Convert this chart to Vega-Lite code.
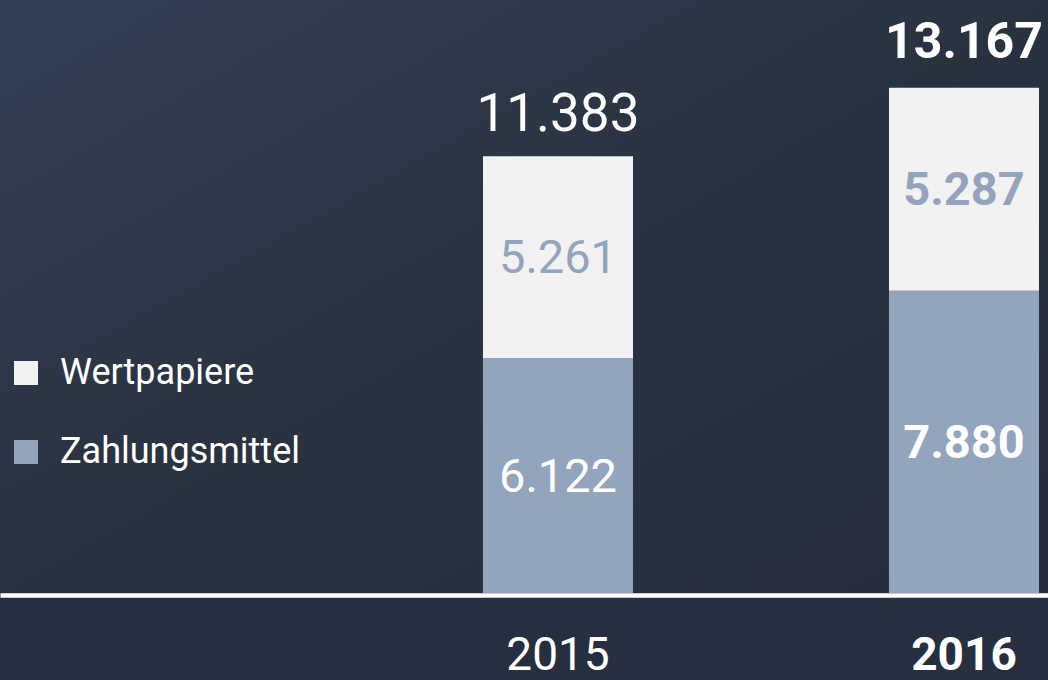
{
  "$schema": "https://vega.github.io/schema/vega-lite/v6.json",
  "width": 1048,
  "height": 593,
  "autosize": "none",
  "padding": {"left": 0, "top": 0, "right": 0, "bottom": 87},
  "background": "#262f3f",
  "config": {
    "locale": {"number": {"decimal": ",", "thousands": ".", "grouping": [3], "currency": ["", " €"]}},
    "view": {
      "stroke": null,
      "fill": {
        "gradient": "linear",
        "x1": 0, "y1": 0, "x2": 1, "y2": 1,
        "stops": [
          {"offset": 0, "color": "#323e53"},
          {"offset": 0.5, "color": "#29323f"},
          {"offset": 1, "color": "#252d3c"}
        ]
      }
    }
  },
  "data": {
    "values": [
      {"year": "2015", "category": "Zahlungsmittel", "value": 6122},
      {"year": "2015", "category": "Wertpapiere", "value": 5261},
      {"year": "2016", "category": "Zahlungsmittel", "value": 7880},
      {"year": "2016", "category": "Wertpapiere", "value": 5287}
    ]
  },
  "encoding": {
    "x": {
      "field": "year",
      "type": "nominal",
      "scale": {"paddingInner": 0.6305, "paddingOuter": 0.6059, "align": 0.9817},
      "axis": {
        "title": null,
        "labelAngle": 0,
        "ticks": false,
        "domainColor": "#ffffff",
        "domainWidth": 4.5,
        "offset": 2,
        "labelColor": "#ffffff",
        "labelFont": "Roboto",
        "labelFontSize": 46,
        "labelFontWeight": {"condition": {"test": "datum.value == '2016'", "value": "bold"}, "value": "normal"},
        "labelPadding": 38
      }
    }
  },
  "layer": [
    {
      "mark": {"type": "bar"},
      "encoding": {
        "y": {"field": "value", "type": "quantitative", "stack": "zero", "scale": {"domain": [0, 15455], "nice": false}, "axis": null},
        "order": {"field": "category", "sort": "descending"},
        "color": {
          "field": "category",
          "type": "nominal",
          "scale": {"domain": ["Wertpapiere", "Zahlungsmittel"], "range": ["#f2f2f2", "#93a4bd"]},
          "legend": {
            "title": null,
            "orient": "none",
            "legendX": 8,
            "legendY": 355,
            "padding": 0,
            "symbolType": "square",
            "symbolSize": 576,
            "symbolStrokeWidth": 0,
            "symbolOpacity": 1,
            "labelFont": "Roboto",
            "labelFontSize": 36,
            "labelColor": "#ffffff",
            "labelOffset": 16,
            "labelLimit": 500,
            "rowPadding": 43
          }
        }
      }
    },
    {
      "transform": [
        {"stack": "value", "groupby": ["year"], "sort": [{"field": "category", "order": "descending"}], "as": ["v0", "v1"]},
        {"calculate": "(datum.v0 + datum.v1) / 2", "as": "mid"},
        {"filter": "datum.year == '2015'"}
      ],
      "mark": {"type": "text", "font": "Roboto", "fontSize": 47, "baseline": "middle", "dy": 2},
      "encoding": {
        "y": {"field": "mid", "type": "quantitative"},
        "text": {"field": "value", "type": "quantitative", "format": ",d"},
        "color": {"field": "category", "type": "nominal", "scale": {"domain": ["Wertpapiere", "Zahlungsmittel"], "range": ["#93a4bd", "#ffffff"]}, "legend": null}
      }
    },
    {
      "transform": [
        {"stack": "value", "groupby": ["year"], "sort": [{"field": "category", "order": "descending"}], "as": ["v0", "v1"]},
        {"calculate": "(datum.v0 + datum.v1) / 2", "as": "mid"},
        {"filter": "datum.year == '2016'"}
      ],
      "mark": {"type": "text", "font": "Roboto", "fontSize": 47, "fontWeight": "bold", "baseline": "middle", "dy": 2},
      "encoding": {
        "y": {"field": "mid", "type": "quantitative"},
        "text": {"field": "value", "type": "quantitative", "format": ",d"},
        "color": {"field": "category", "type": "nominal", "scale": {"domain": ["Wertpapiere", "Zahlungsmittel"], "range": ["#93a4bd", "#ffffff"]}, "legend": null}
      }
    },
    {
      "transform": [{"filter": "datum.year == '2015'"}],
      "mark": {"type": "text", "font": "Roboto", "fontSize": 53, "baseline": "alphabetic", "dy": -25, "color": "#ffffff"},
      "encoding": {
        "y": {"aggregate": "sum", "field": "value", "type": "quantitative"},
        "text": {"aggregate": "sum", "field": "value", "type": "quantitative", "format": ",d"}
      }
    },
    {
      "transform": [{"filter": "datum.year == '2016'"}],
      "mark": {"type": "text", "font": "Roboto", "fontSize": 50, "fontWeight": "bold", "baseline": "alphabetic", "dy": -30, "color": "#ffffff"},
      "encoding": {
        "y": {"aggregate": "sum", "field": "value", "type": "quantitative"},
        "text": {"aggregate": "sum", "field": "value", "type": "quantitative", "format": ",d"}
      }
    }
  ],
  "resolve": {"scale": {"color": "independent"}}
}
